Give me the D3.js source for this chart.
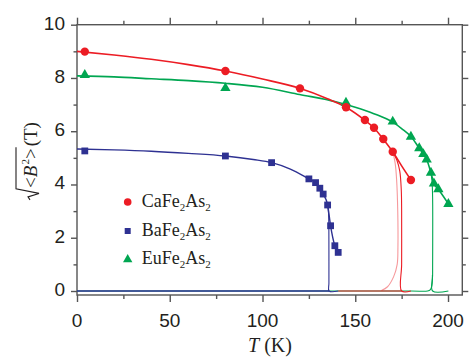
<!DOCTYPE html>
<html><head><meta charset="utf-8">
<script src="https://cdn.jsdelivr.net/npm/d3@7"></script>
<style>body{margin:0;background:#fff}svg{display:block}</style>
</head><body>
<svg id="c" width="471" height="357"></svg>
<script>
// ---- data ----
const seriesNames = ["CaFe2As2", "BaFe2As2", "EuFe2As2"];
const xMajorTicks = [0, 50, 100, 150, 200];
const xMinorTicks = [25, 75, 125, 175];
const yMajorTicks = [0, 2, 4, 6, 8, 10];
const yMinorTicks = [1, 3, 5, 7, 9];

// measured points [T (K), sqrt(<B^2>) (T)]
const caPoints = [[4.2,8.99],[80,8.26],[120.2,7.61],[145,6.90],[155.2,6.42],[160.1,6.13],[165.1,5.71],[170.2,5.23],[180,4.17]];
const baPoints = [[4.2,5.26],[80,5.07],[104.9,4.82],[125,4.21],[128.6,4.07],[130.9,3.86],[132.7,3.64],[135.1,3.23],[136.7,2.45],[139,1.70],[140.8,1.45]];
const euPoints = [[4.2,8.11],[80,7.62],[145,7.07],[170.2,6.36],[180,5.79],[184.5,5.36],[186.7,5.14],[188.5,4.94],[190.8,4.44],[192.4,4.04],[194.8,3.82],[200.2,3.27]];

// fitted curves
const caFit = [[0,9.0],[20,8.86],[40,8.7],[60,8.5],[80,8.26],[100,7.96],[120,7.61],[135,7.22],[145,6.90],[155,6.42],[160,6.13],[165,5.71],[170.2,5.23],[175,4.70],[180,4.17]];
const caSharp = [[170.2,5.23],[172.5,4.9],[174,4.5],[174.8,3.8],[175,3.0],[175,1.0],[175,0],[180,0]];
const caBroad = [[164.1,0.02],[167.4,0.16],[170.7,0.54],[172.6,1.0],[173.0,1.66],[172.9,3.0],[172.3,4.17],[171.5,4.8],[170.2,5.23]];
const caZero = [[140.8,0],[175,0]];
const baFit = [[0,5.33],[20,5.30],[40,5.25],[60,5.17],[80,5.07],[95,4.94],[105,4.82],[115,4.58],[125,4.21],[128.6,4.07],[130.9,3.86],[132.7,3.64],[135.1,3.23],[136.7,2.45],[139,1.70],[140.8,1.45]];
const baDrop = [[135.1,3.23],[135.6,2.9],[135.8,1.5],[135.8,0.3],[135.9,0],[140.8,0]];
const baZero = [[0,0],[135.9,0]];
const euFit = [[0,8.08],[20,8.04],[40,7.97],[60,7.9],[80,7.8],[100,7.65],[120,7.38],[140,7.1],[150,6.9],[160,6.66],[170.2,6.34],[175,6.1],[180,5.8],[184.5,5.36],[186.7,5.14],[188.5,4.94],[190.8,4.44],[192.4,4.04],[194.8,3.82],[200.2,3.27]];
const euDrop = [[190.8,4.44],[191.4,4.1],[191.7,3.5],[191.7,0.6],[191.7,0],[200.2,0]];
const euBroad = [[0,0],[180,0],[189,0],[190.5,0.05],[191.3,0.2],[191.6,0.6]];

// ---- layout ----
const svg = d3.select("#c");
const colors = {ca:"#ec1c24", ba:"#2e3192", eu:"#00a651"};
const x = d3.scaleLinear().domain([0, 207.7]).range([77, 462.3]);
const y = d3.scaleLinear().domain([-0.15, 10]).range([295, 24.7]);
const axisColor = "#555";
const textColor = "#231f20";

// frame
svg.append("rect").attr("x", x(0)).attr("y", y(10)).attr("width", x(207.7)-x(0)).attr("height", y(-0.15)-y(10))
  .attr("fill","none").attr("stroke",axisColor).attr("stroke-width",1.4);

function ticks(axisFn, scale, vals, len, tr){
  const g = svg.append("g").attr("transform", tr)
    .call(axisFn(scale).tickValues(vals).tickSize(len).tickFormat(""));
  g.select(".domain").remove();
  g.selectAll("line").attr("stroke",axisColor).attr("stroke-width",1.4);
}
ticks(d3.axisBottom, x, xMajorTicks, 7, `translate(0,${y(-0.15)})`);
ticks(d3.axisBottom, x, xMinorTicks, 4, `translate(0,${y(-0.15)})`);
ticks(d3.axisTop, x, xMajorTicks, 7, `translate(0,${y(10)})`);
ticks(d3.axisTop, x, xMinorTicks, 4, `translate(0,${y(10)})`);
ticks(d3.axisLeft, y, yMajorTicks, 6, `translate(${x(0)},0)`);
ticks(d3.axisLeft, y, yMinorTicks, 3.5, `translate(${x(0)},0)`);
ticks(d3.axisRight, y, yMajorTicks, 6, `translate(${x(207.7)},0)`);
ticks(d3.axisRight, y, yMinorTicks, 3.5, `translate(${x(207.7)},0)`);

// tick labels
svg.append("g").selectAll("text").data(xMajorTicks).join("text")
  .attr("x", d=>x(d)).attr("y", 327).attr("text-anchor","middle")
  .attr("font-family","Liberation Sans, Arial, sans-serif").attr("font-size",19).attr("fill",textColor)
  .text(d=>d);
svg.append("g").selectAll("text").data(yMajorTicks).join("text")
  .attr("x", 65).attr("y", d=>y(d)+5).attr("text-anchor","end")
  .attr("font-family","Liberation Sans, Arial, sans-serif").attr("font-size",19).attr("fill",textColor)
  .text(d=>d);

// x title
const xt = svg.append("text").attr("x",270).attr("y",352).attr("text-anchor","middle")
  .attr("font-family","Liberation Serif, Times New Roman, serif").attr("font-size",20).attr("fill",textColor);
xt.append("tspan").attr("font-style","italic").text("T");
xt.append("tspan").text(" (K)");

// y title
const yg = svg.append("g").attr("transform","translate(37,161) rotate(-90)");
const yt = yg.append("text").attr("font-family","Liberation Serif, Times New Roman, serif").attr("font-size",19).attr("fill",textColor);
yt.append("tspan").text("<");
yt.append("tspan").attr("font-style","italic").text("B");
yt.append("tspan").attr("font-size",11).attr("dy",-8).attr("dx",1).text("2");
yt.append("tspan").attr("dy",8).text(">");
yt.append("tspan").attr("dx",2).text("(T)");
const radW = 12;
const w = yt.node().getComputedTextLength() + 3;
const start = -(w + radW)/2;
yt.attr("x", start + radW);
const endOver = yt.node().getEndPositionOfChar(3).x + 1;
const oy = -21;
yg.append("path")
  .attr("d", `M${start},${-7} L${start+3},${-9} L${start+6.5},${2} L${start+11},${oy} L${endOver},${oy}`)
  .attr("fill","none").attr("stroke",textColor).attr("stroke-width",1.1);

// curves
const lineM = d3.line().x(d=>x(d[0])).y(d=>y(d[1])).curve(d3.curveMonotoneX);
const lineC = d3.line().x(d=>x(d[0])).y(d=>y(d[1])).curve(d3.curveCatmullRom.alpha(0.5));
function curve(data, gen, color, width, op){
  svg.append("path").attr("d", gen(data)).attr("fill","none").attr("stroke",color)
    .attr("stroke-width",width).attr("stroke-opacity",op||1).attr("stroke-linejoin","round");
}
curve(euBroad, lineC, colors.eu, 1.1);
curve(euDrop, lineC, colors.eu, 1.1);
curve(euFit, lineM, colors.eu, 1.6);
curve(caZero, lineC, colors.ca, 1.2);
curve(caBroad, lineC, colors.ca, 1.1, 0.45);
curve(caSharp, lineC, colors.ca, 1.1);
curve(caFit, lineM, colors.ca, 1.6);
curve(baZero, lineC, colors.ba, 1.4);
curve(baDrop, lineC, colors.ba, 1.1);
curve(baFit, lineM, colors.ba, 1.4);

// markers
const tri = d3.symbol().type(d3.symbolTriangle).size(46);
svg.append("g").selectAll("path").data(euPoints).join("path")
  .attr("d", tri).attr("transform", d=>`translate(${x(d[0])},${y(d[1])})`).attr("fill",colors.eu);
svg.append("g").selectAll("circle").data(caPoints).join("circle")
  .attr("cx", d=>x(d[0])).attr("cy", d=>y(d[1])).attr("r",4.2).attr("fill",colors.ca);
svg.append("g").selectAll("rect").data(baPoints).join("rect")
  .attr("x", d=>x(d[0])-3.4).attr("y", d=>y(d[1])-3.4).attr("width",6.8).attr("height",6.8).attr("fill",colors.ba);

// legend
const legY = [202, 231, 259.5];
const lg = svg.append("g");
lg.append("circle").attr("cx",127.7).attr("cy",legY[0]).attr("r",3.8).attr("fill",colors.ca);
lg.append("rect").attr("x",127.7-3).attr("y",legY[1]-3).attr("width",6).attr("height",6).attr("fill",colors.ba);
lg.append("path").attr("d", d3.symbol().type(d3.symbolTriangle).size(38)).attr("transform",`translate(127.7,${legY[2]})`).attr("fill",colors.eu);
seriesNames.forEach((n,i)=>{
  const m = n.match(/^([A-Z][a-z])Fe2As2$/);
  const t = lg.append("text").attr("x",141.7).attr("y",legY[i]+4.5)
    .attr("font-family","Liberation Serif, Times New Roman, serif").attr("font-size",18).attr("fill",textColor);
  t.append("tspan").text(m[1]+"Fe");
  t.append("tspan").attr("font-size",11).attr("dy",4).text("2");
  t.append("tspan").attr("dy",-4).text("As");
  t.append("tspan").attr("font-size",11).attr("dy",4).text("2");
});
</script>
</body></html>
